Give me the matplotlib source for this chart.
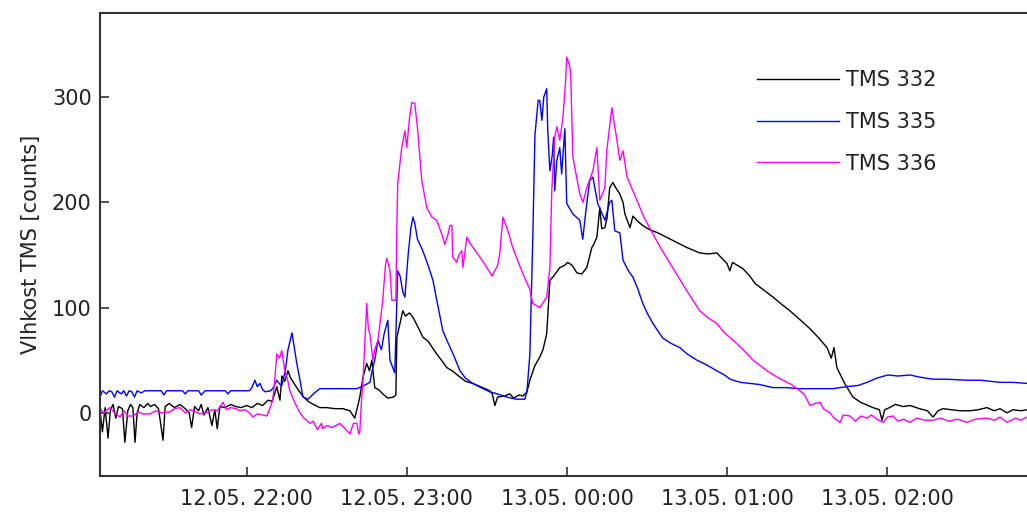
from datetime import datetime, timedelta

import matplotlib
matplotlib.use("Agg")
import matplotlib.pyplot as plt
import matplotlib.dates as mdates

# ==== data (minutes after 12.05. 21:00, counts) ====
T0 = datetime(2015, 5, 12, 21, 0)

t332 = [5.1, 6.0, 7.0, 8.1, 9.0, 10.0, 11.0, 12.0, 13.5, 14.4, 15.5, 16.5, 17.4, 18.2, 19.0,
        20.0, 21.5, 23.0, 24.0, 25.5, 27.0, 28.7, 29.5, 31.0, 33.0, 35.0, 37.0, 38.5, 39.4,
        40.5, 42.0, 43.0, 44.0, 45.5, 47.0, 48.1, 49.0, 50.0, 52.0, 54.0, 56.0, 58.0, 60.0,
        62.0, 64.0, 66.0, 68.0, 69.5, 70.5, 71.3, 72.5, 73.2, 74.3, 75.5, 76.5, 78.8, 81.0,
        83.0, 85.0, 87.4, 90.0, 93.0, 96.0, 98.7, 100.5, 101.5, 102.4, 103.6, 105.0, 106.0,
        106.9, 108.0, 109.5, 111.0, 112.9, 115.0, 115.9, 116.3, 118.5, 119.5, 121.0, 122.5,
        124.5, 126.0, 128.0, 131.2, 133.0, 135.0, 137.0, 139.9, 142.0, 144.7, 147.5, 151.1,
        152.0, 153.0, 154.0, 156.5, 158.6, 160.0, 162.0, 163.5, 165.0, 166.1, 168.0, 169.8,
        171.0, 172.4, 173.0, 173.6, 175.0, 177.3, 179.0, 180.3, 182.0, 183.7, 185.5, 187.4,
        189.3, 190.0, 191.2, 192.3, 193.0, 194.2, 195.0, 196.0, 197.2, 198.0, 199.8, 201.0,
        201.7, 203.0, 203.6, 204.7, 206.5, 208.4, 211.0, 214.1, 218.0, 221.2, 225.0, 229.7,
        233.0, 236.1, 238.0, 239.9, 241.0, 242.0, 245.9, 248.5, 250.4, 253.0, 257.2, 260.0,
        263.5, 268.4, 271.0, 274.0, 277.4, 279.0, 280.0, 281.1, 284.0, 287.1, 290.0, 294.6,
        297.0, 298.0, 299.0, 300.0, 303.0, 306.0, 308.5, 312.0, 315.0, 317.1, 319.0, 320.8,
        324.0, 327.2, 331.0, 334.0, 337.3, 340.0, 342.2, 344.8, 347.0, 350.0, 352.3]
v332 = [2, -18, 5, -24, 3, 8, -5, 6, 4, -28, 2, 8, 5, -28, 0,
        8, 5, 9, 6, 8, 4, -26, 6, 9, 5, 8, 4, 0, -14,
        6, 2, 8, -2, 5, -12, 3, -15, 6, 5, 8, 6, 5, 7,
        5, 9, 7, 12, 11, 18, 25, 12, 35, 30, 40, 33, 24, 16,
        11, 8, 5, 5, 4, 4, 2, -5, 5, 15, 34, 47, 40,
        50, 24, 22, 18, 14, 15, 17, 72, 97, 92, 95, 90,
        80, 72, 68, 56, 50, 43, 40, 34, 30, 28, 25, 21,
        18, 7, 15, 16, 18, 14, 17, 16, 20, 31, 45, 53,
        60, 75, 100, 126, 130, 138, 140, 143, 140, 133, 132, 138,
        157, 160, 167, 195, 175, 176, 185, 214, 219, 215, 208, 200,
        189, 180, 176, 187, 182, 178, 174, 171, 166, 162, 157, 152,
        151, 152, 147, 142, 135, 143, 137, 130, 123, 118, 110, 104,
        97, 86, 80, 72, 62, 52, 62, 43, 28, 15, 10, 5,
        3, -7, 3, 4, 8, 6, 7, 4, 2, -4, 2, 4,
        3, 2, 2, 3, 5, 2, 4, 0, 3, 2, 3]

t335 = [5.1, 6.0, 7.5, 8.5, 9.5, 10.5, 11.5, 13.0, 14.0, 15.0, 16.0, 17.0, 18.0, 19.0, 20.5,
        22.0, 28.0, 29.0, 30.0, 36.0, 37.0, 38.0, 42.0, 43.0, 44.5, 52.0, 53.0, 54.0, 58.0,
        61.0, 62.0, 63.1, 64.0, 65.0, 66.0, 67.0, 69.0, 70.0, 71.3, 72.5, 73.2, 74.5, 75.5,
        77.0, 78.0, 78.8, 80.0, 81.1, 83.0, 85.0, 87.4, 95.0, 101.3, 104.0, 106.2, 107.0,
        108.0, 109.2, 110.5, 111.5, 112.9, 113.7, 115.5, 116.3, 116.6, 117.5, 118.5, 119.3,
        120.5, 121.5, 122.3, 123.0, 124.0, 126.0, 128.0, 129.8, 131.0, 133.5, 135.0, 137.5,
        139.9, 142.0, 144.7, 147.0, 151.1, 154.0, 157.5, 161.0, 164.2, 165.0, 166.1, 167.2,
        168.0, 169.2, 169.8, 170.6, 171.3, 172.4, 172.8, 173.6, 174.5, 175.0, 175.4, 176.2,
        177.3, 178.0, 178.5, 179.2, 179.9, 182.2, 184.8, 185.9, 187.0, 188.5, 189.7, 191.5,
        193.0, 194.2, 196.0, 196.8, 197.9, 199.8, 200.6, 201.0, 203.0, 204.7, 206.5, 208.4,
        210.0, 212.2, 214.0, 215.9, 219.0, 222.3, 225.0, 228.7, 232.0, 236.1, 239.0, 241.1,
        245.0, 248.5, 252.0, 257.2, 262.0, 267.2, 273.6, 279.6, 285.0, 289.0, 292.4, 296.0,
        300.2, 304.0, 308.5, 312.0, 317.1, 322.0, 329.8, 335.0, 342.2, 347.0, 352.3]
v335 = [15, 21, 18, 21, 20, 15, 21, 18, 21, 16, 21, 20, 15, 21, 19,
        21, 21, 17, 21, 21, 18, 21, 21, 17, 21, 21, 18, 21, 21,
        21, 24, 31, 25, 28, 22, 20, 21, 24, 31, 27, 26, 40, 60,
        76, 60, 47, 31, 15, 13, 18, 23, 23, 23, 26, 29, 40,
        50, 69, 60, 75, 88, 50, 38, 110, 135, 130, 115, 110,
        150, 175, 186, 180, 165, 154, 140, 126, 110, 78, 69, 55,
        40, 33, 28, 25, 20, 18, 15, 13, 13, 20, 56, 167,
        264, 297, 297, 278, 300, 308, 268, 230, 245, 262, 211, 240,
        252, 227, 245, 270, 199, 189, 183, 165, 190, 221, 224, 199,
        190, 183, 200, 202, 173, 171, 154, 145, 135, 129, 118, 104,
        95, 85, 78, 71, 66, 62, 56, 50, 46, 40, 36, 32,
        29, 28, 27, 24, 24, 23, 23, 23, 25, 26, 29, 33,
        36, 35, 36, 34, 32, 32, 31, 31, 29, 29, 28]

t336 = [5.1, 6.5, 8.8, 10.5, 12.6, 14.0, 15.5, 17.4, 19.5, 21.0, 23.8, 26.0, 28.0, 31.3, 33.0,
        35.0, 37.0, 39.0, 42.5, 45.0, 47.0, 49.0, 51.1, 52.5, 54.0, 56.0, 57.5, 59.5, 61.0,
        62.4, 64.0, 66.0, 67.6, 68.8, 69.8, 70.5, 71.3, 72.3, 73.2, 74.3, 75.5, 76.2, 78.0,
        80.0, 81.5, 83.7, 85.0, 86.5, 88.0, 88.6, 90.0, 92.0, 94.9, 96.5, 98.7, 100.0, 101.3,
        102.0, 102.4, 103.0, 103.6, 105.0, 105.6, 106.2, 107.3, 108.0, 109.2, 111.0, 112.0,
        112.5, 113.7, 114.4, 115.9, 116.3, 116.6, 118.1, 119.3, 120.0, 121.0, 121.9, 123.0,
        124.1, 125.6, 127.5, 129.4, 131.2, 133.5, 134.2, 135.5, 136.1, 136.9, 137.2, 138.7,
        139.5, 140.6, 141.0, 142.5, 144.0, 147.4, 150.0, 151.9, 154.0, 154.8, 156.0, 158.0,
        159.7, 161.5, 163.5, 166.0, 167.2, 169.8, 172.4, 173.6, 174.3, 175.4, 176.2, 177.3,
        178.5, 179.5, 179.9, 181.0, 181.4, 182.2, 184.8, 186.0, 187.4, 189.7, 191.2, 192.3,
        194.2, 194.9, 196.8, 198.7, 199.8, 201.0, 202.5, 206.2, 209.0, 212.2, 215.0, 218.6,
        222.0, 224.9, 229.7, 233.0, 236.1, 239.0, 242.2, 246.0, 249.7, 254.9, 258.0, 260.9,
        264.0, 267.2, 269.0, 271.0, 273.0, 274.8, 276.0, 278.5, 280.0, 282.3, 283.5, 286.0,
        288.0, 290.0, 292.4, 294.0, 296.0, 298.4, 300.0, 302.1, 304.0, 306.0, 308.5, 311.0,
        314.0, 317.1, 320.0, 323.0, 326.0, 329.8, 333.0, 337.3, 340.0, 342.2, 344.8, 348.0,
        350.0, 352.3]
v336 = [4, 0, 5, 0, -4, 2, -3, -3, 1, -1, -1, 2, 0, 1, 4,
        5, 0, 3, -1, 0, 3, 2, 10, 3, 5, 4, 2, 3, 0,
        -4, -1, -2, -3, 5, 12, 30, 56, 52, 59, 40, 30, 21, 10,
        0, -5, -10, -8, -16, -10, -15, -12, -14, -10, -14, -20, -10, -10,
        -20, -18, 10, 31, 104, 80, 75, 50, 60, 69, 107, 140,
        147, 135, 107, 107, 180, 218, 252, 268, 252, 280, 295, 294,
        268, 221, 195, 186, 183, 167, 160, 170, 178, 178, 148, 143,
        150, 154, 138, 167, 160, 148, 138, 130, 140, 151, 186, 172,
        157, 145, 132, 118, 104, 100, 110, 138, 211, 262, 272, 259,
        281, 316, 338, 330, 322, 243, 208, 200, 214, 230, 252, 202,
        214, 249, 290, 259, 240, 249, 224, 202, 185, 170, 157, 142,
        128, 116, 97, 90, 85, 76, 69, 60, 50, 40, 35, 31,
        27, 21, 17, 7, 9, 10, 4, 0, -5, -9, -2, -3,
        -8, -3, -5, -2, -6, -9, -4, -3, -8, -6, -9, -5,
        -7, -7, -5, -8, -6, -9, -6, -5, -7, -4, -9, -5,
        -7, -4]

names = ["TMS 332", "TMS 335", "TMS 336"]
colors = ["#000000", "#0000ff", "#ff00ff"]
TEXT = "#222222"


def to_dates(minutes):
    return [T0 + timedelta(minutes=m) for m in minutes]


plt.rcParams["font.family"] = "DejaVu Sans"
fig = plt.figure(figsize=(10.27, 5.13), dpi=100)
ax = fig.add_axes([0.0974, 0.0721, 0.9026, 0.9026])

for t, v, name, c in zip([t332, t335, t336], [v332, v335, v336], names, colors):
    ax.plot(to_dates(t), v, color=c, lw=1.0, label=name)

ax.set_xlim(T0 + timedelta(minutes=5.1), T0 + timedelta(minutes=352.3))
ax.set_ylim(-60, 380)
ax.set_yticks([0, 100, 200, 300])
ax.xaxis.set_major_locator(mdates.HourLocator())
ax.xaxis.set_major_formatter(mdates.DateFormatter("%d.%m. %H:%M"))

for side in ["left", "bottom", "top"]:
    ax.spines[side].set_linewidth(1.5)
    ax.spines[side].set_color("#333333")
ax.spines["right"].set_visible(False)
ax.tick_params(direction="in", length=6.5, width=1.2, color="#333333",
               labelsize=15, labelcolor=TEXT)
ax.tick_params(axis="x", pad=9)
ax.tick_params(axis="y", pad=6)
ax.set_ylabel("Vlhkost TMS [counts]", fontsize=15, color=TEXT, labelpad=8)

ax.legend(loc="upper left", bbox_to_anchor=(0.709, 0.876), frameon=False,
          fontsize=15, handlelength=3.9, handletextpad=0.35, labelspacing=1.04,
          borderpad=0, borderaxespad=0, labelcolor=TEXT)

fig.savefig("out.png", dpi=100)
